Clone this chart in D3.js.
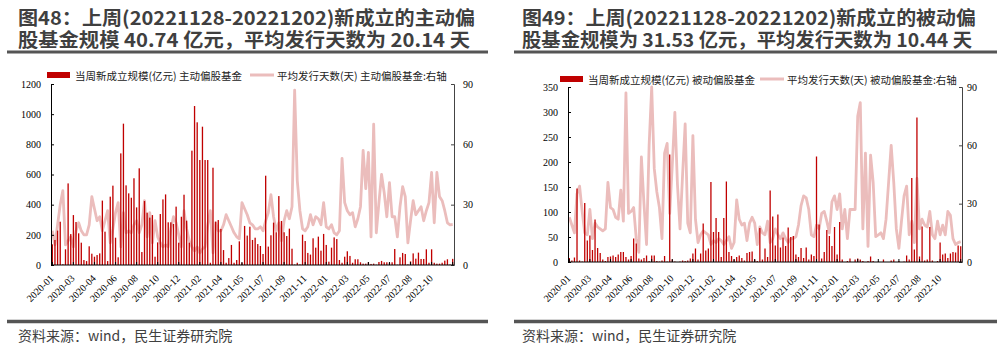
<!DOCTYPE html>
<html>
<head>
<meta charset="utf-8">
<script src="https://cdn.jsdelivr.net/npm/d3@7"></script>
<style>
  body { margin: 0; background: #fff; }
  svg { display: block; }
</style>
</head>
<body>
<svg id="chart" width="1006" height="354"></svg>
<script>
// x tick labels, one every 8 weeks
const tickLabels = ['2020-01', '2020-03', '2020-04', '2020-06', '2020-08', '2020-10', '2020-12',
  '2021-02', '2021-04', '2021-05', '2021-07', '2021-09', '2021-11',
  '2022-01', '2022-03', '2022-05', '2022-07', '2022-08', '2022-10']

// weekly new fund size (亿元), active equity funds
const activeSize = [
  137, 166, 228, 287, 5, 104, 541, 205, 331, 285, 210, 148, 33, 26, 124, 75, 55, 66, 77, 427,
  221, 26, 453, 526, 181, 51, 740, 937, 528, 475, 446, 575, 382, 641, 86, 424, 347, 314, 331, 55,
  150, 338, 435, 468, 283, 283, 272, 387, 148, 320, 466, 294, 148, 758, 1054, 946, 696, 917, 696, 696,
  15, 645, 287, 298, 239, 99, 15, 46, 133, 15, 33, 157, 15, 259, 195, 254,
  166, 181, 139, 126, 73, 592, 122, 197, 281, 217, 457, 292, 217, 192, 241, 108, 3, 15, 4, 201,
  159, 80, 69, 177, 115, 188, 95, 206, 133, 22, 115, 183, 172, 33, 15, 55, 91, 60, 15, 38,
  38, 18, 9, 9, 18, 7, 9, 2, 20, 27, 18, 18, 15, 18, 106, 2, 51, 80, 73, 4,
  24, 77, 42, 82, 40, 40, 104, 15, 104, 15, 9, 9, 15, 29, 38, 3, 40.74
]

// average issuing days, active equity funds (right axis)
const activeDays = [
  17, 10, 20, 30, 37, 10, 12, 14, 9, 17, 21, 17, 15, 15, 20, 34, 28, 22, 24, 17,
  22, 27, 11, 18, 26, 31, 9, 26, 16, 17, 16, 20, 22, 16, 20, 32, 14, 26, 11, 22,
  14, 11, 9, 10, 9, 18, 24, 21, 15, 9, 27, 18, 12, 9, 7, 9, 6, 8, 9, 20,
  27, 6, 21, 17, 17, 20, 25, 22, 19, 16, 14, 13, 31, 28, 25, 21,
  20, 18, 18, 19, 17, 22, 26, 35, 24, 17, 21, 12, 22, 27, 23, 29, 87, 42, 27, 18,
  17, 19, 25, 20, 24, 23, 20, 31, 19, 18, 20, 16, 15, 17, 53, 31, 27, 25, 26, 19,
  23, 29, 57, 38, 56, 14, 70, 16, 31, 45, 36, 24, 41, 24, 24, 14, 29, 39, 34, 11,
  22, 32, 25, 27, 29, 22, 27, 31, 46, 21, 46, 34, 32, 27, 21, 20, 20.14
]

// weekly new fund size (亿元), passive equity funds
const passiveSize = [
  8, 3, 9, 147, 3, 1, 118, 43, 53, 24, 85, 28, 18, 5, 2, 10, 11, 13, 10, 15,
  20, 20, 10, 5, 12, 47, 37, 7, 5, 8, 13, 2, 13, 13, 2, 1, 3, 12, 1, 215,
  5, 1, 0, 1, 3, 2, 3, 7, 17, 27, 5, 17, 77, 23, 27, 160, 60, 88, 60, 10,
  88, 161, 20, 12, 5, 10, 13, 8, 3, 18, 20, 21, 5, 2, 68, 5, 27,
  10, 143, 91, 33, 95, 29, 49, 32, 69, 50, 52, 15, 10, 28, 8, 29, 5, 15, 12, 211,
  75, 7, 20, 64, 52, 32, 70, 15, 80, 5, 0, 2, 7, 0, 5, 7, 5, 2, 0, 2,
  11, 2, 0, 1, 0, 5, 0, 0, 3, 5, 0, 2, 0, 1, 13, 5, 168, 25, 289, 11,
  71, 3, 5, 70, 3, 0, 2, 39, 15, 17, 8, 17, 20, 19, 33, 31.53
]

// average issuing days, passive equity funds (right axis)
const passiveDays = [
  23, 19, 15, 35, 39, 26, 15, 14, 27, 12, 20, 18, 17, 16, 17, 41, 28, 27, 23, 22,
  37, 21, 87, 25, 26, 28, 12, 5, 54, 30, 9, 60, 90, 48, 36, 28, 12, 56, 61, 25,
  50, 77, 40, 17, 45, 71, 20, 15, 65, 22, 10, 14, 16, 15, 14, 9, 11, 10, 12, 11,
  9, 11, 13, 7, 10, 32, 22, 19, 20, 11, 20, 23, 20, 9, 18, 15,
  14, 21, 10, 12, 17, 14, 12, 15, 12, 10, 12, 12, 13, 19, 29, 34, 33, 27, 14, 13,
  19, 17, 25, 26, 21, 15, 31, 34, 27, 35, 17, 27, 12, 27, 27, 27, 75, 82, 17, 56,
  8, 55, 41, 13, 14, 15, 12, 22, 41, 60, 41, 17, 7, 21, 34, 39, 14, 21, 10, 43,
  17, 22, 19, 18, 26, 14, 12, 21, 14, 19, 14, 26, 24, 12, 9, 10, 10.44
]

const weeks = d3.range(activeSize.length)

const barColor = '#C00000'
const lineColor = '#EBBDBC'
const serif = '"Liberation Serif", "Times New Roman", serif'
const cjk = '"Noto Sans CJK SC", sans-serif'

const svg = d3.select('#chart')
svg.append('rect').attr('width', 1006).attr('height', 354).attr('fill', '#fff')

const panels = [
  {
    title: ['图48：上周(20221128-20221202)新成立的主动偏', '股基金规模 40.74 亿元，平均发行天数为 20.14 天'],
    titleW: [457, 452],
    titleX: 18, ruleX: [7, 488],
    left: 51, right: 454, top: 84, bottom: 265,
    yMax: 1200, yStep: 200, rightPad: 9,
    barName: '当周新成立规模(亿元) 主动偏股基金',
    lineName: '平均发行天数(天) 主动偏股基金:右轴',
    legendY: 75, barLegendX: 47, lineLegendX: 250,
    size: activeSize, days: activeDays
  },
  {
    title: ['图49：上周(20221128-20221202)新成立的被动偏', '股基金规模为 31.53 亿元，平均发行天数为 10.44 天'],
    titleW: [454, 450],
    titleX: 522, ruleX: [514, 997],
    left: 568, right: 962, top: 87, bottom: 262,
    yMax: 350, yStep: 50, rightPad: 5,
    barName: '当周新成立规模(亿元) 被动偏股基金',
    lineName: '平均发行天数(天) 被动偏股基金:右轴',
    legendY: 79, barLegendX: 560, lineLegendX: 760,
    size: passiveSize, days: passiveDays
  }
]

panels.forEach(drawPanel)

function drawPanel(p) {
  const g = svg.append('g')

  // two-line title in one text element, squeezed to the reference width
  const title = g.append('text')
    .attr('font-family', cjk)
    .attr('font-weight', 'bold')
    .attr('font-size', 19)
    .attr('fill', '#3f3f3f')
  p.title.forEach((t, i) => {
    title.append('tspan')
      .attr('x', p.titleX)
      .attr('y', 25 + i * 21.5)
      .attr('textLength', p.titleW[i])
      .attr('lengthAdjust', 'spacingAndGlyphs')
      .text(t)
  })

  g.append('line')
    .attr('x1', p.ruleX[0]).attr('x2', p.ruleX[1])
    .attr('y1', 52).attr('y2', 52)
    .attr('stroke', '#555').attr('stroke-width', 3)

  // footer
  g.append('line')
    .attr('x1', p.ruleX[0]).attr('x2', p.ruleX[1])
    .attr('y1', 321.5).attr('y2', 321.5)
    .attr('stroke', '#555').attr('stroke-width', 3.5)

  g.append('text')
    .attr('x', p.titleX)
    .attr('y', 341)
    .attr('font-family', cjk)
    .attr('font-size', 14)
    .attr('fill', '#404040')
    .text('资料来源：wind，民生证券研究院')

  // scales
  const x = d3.scaleBand().domain(weeks).range([p.left, p.right])
  const y = d3.scaleLinear().domain([0, p.yMax]).range([p.bottom, p.top])
  const y2 = d3.scaleLinear().domain([0, 90]).range([p.bottom, p.top])

  // line first, bars drawn over it
  const line = d3.line()
    .x((d, i) => x(i) + x.bandwidth() / 2)
    .y(d => y2(d))

  g.append('path')
    .datum(p.days)
    .attr('d', line)
    .attr('fill', 'none')
    .attr('stroke', lineColor)
    .attr('stroke-width', 2.8)
    .attr('stroke-linejoin', 'round')

  const barW = x.bandwidth() * 0.5
  g.selectAll('.bar')
    .data(p.size)
    .enter()
    .append('rect')
    .attr('class', 'bar')
    .attr('x', (d, i) => x(i) + (x.bandwidth() - barW) / 2)
    .attr('y', d => y(d))
    .attr('width', barW)
    .attr('height', d => p.bottom - y(d))
    .attr('fill', barColor)

  // left axis
  const yAxis = d3.axisLeft(y)
    .tickValues(d3.range(0, p.yMax + 1, p.yStep))
    .tickFormat(d3.format('d'))
    .tickSize(-3)
    .tickPadding(10)
  const ga = g.append('g')
    .attr('transform', `translate(${p.left},0)`)
    .call(yAxis)
  ga.selectAll('text').attr('font-family', serif).attr('font-size', 10).attr('fill', '#000')
  ga.selectAll('line, path').attr('stroke', '#000')

  // right axis
  const y2Axis = d3.axisRight(y2)
    .tickValues([0, 30, 60, 90])
    .tickSize(-3)
    .tickPadding(p.rightPad)
  const gb = g.append('g')
    .attr('transform', `translate(${p.right},0)`)
    .call(y2Axis)
  gb.selectAll('text').attr('font-family', serif).attr('font-size', 10).attr('fill', '#000')
  gb.selectAll('line, path').attr('stroke', '#444')

  // bottom axis
  const xAxis = d3.axisBottom(x)
    .tickValues(weeks.filter(i => i % 8 === 0))
    .tickFormat(i => tickLabels[i / 8])
    .tickSize(-3)
  const gx = g.append('g')
    .attr('transform', `translate(0,${p.bottom})`)
    .call(xAxis)
  gx.select('.domain').attr('d', `M${p.left},0H${p.right}`).attr('stroke', '#000').attr('stroke-width', 1.2)
  gx.selectAll('line').attr('stroke', '#000')
  gx.selectAll('text')
    .attr('font-family', serif)
    .attr('font-size', 10)
    .attr('fill', '#000')
    .attr('text-anchor', 'end')
    .attr('x', 2)
    .attr('y', 279 - p.bottom)
    .attr('dy', 0)
    .attr('transform', `rotate(-45, 2, ${279 - p.bottom})`)

  // legend
  g.append('rect')
    .attr('x', p.barLegendX).attr('y', p.legendY - 3)
    .attr('width', 23).attr('height', 6)
    .attr('fill', barColor)
  g.append('text')
    .attr('x', p.barLegendX + 28).attr('y', p.legendY)
    .attr('dominant-baseline', 'central')
    .attr('font-family', cjk).attr('font-size', 10.5).attr('fill', '#222')
    .text(p.barName)

  g.append('line')
    .attr('x1', p.lineLegendX).attr('x2', p.lineLegendX + 24)
    .attr('y1', p.legendY).attr('y2', p.legendY)
    .attr('stroke', lineColor).attr('stroke-width', 3)
  g.append('text')
    .attr('x', p.lineLegendX + 27).attr('y', p.legendY)
    .attr('dominant-baseline', 'central')
    .attr('font-family', cjk).attr('font-size', 10.5).attr('fill', '#222')
    .text(p.lineName)
}
</script>
</body>
</html>
